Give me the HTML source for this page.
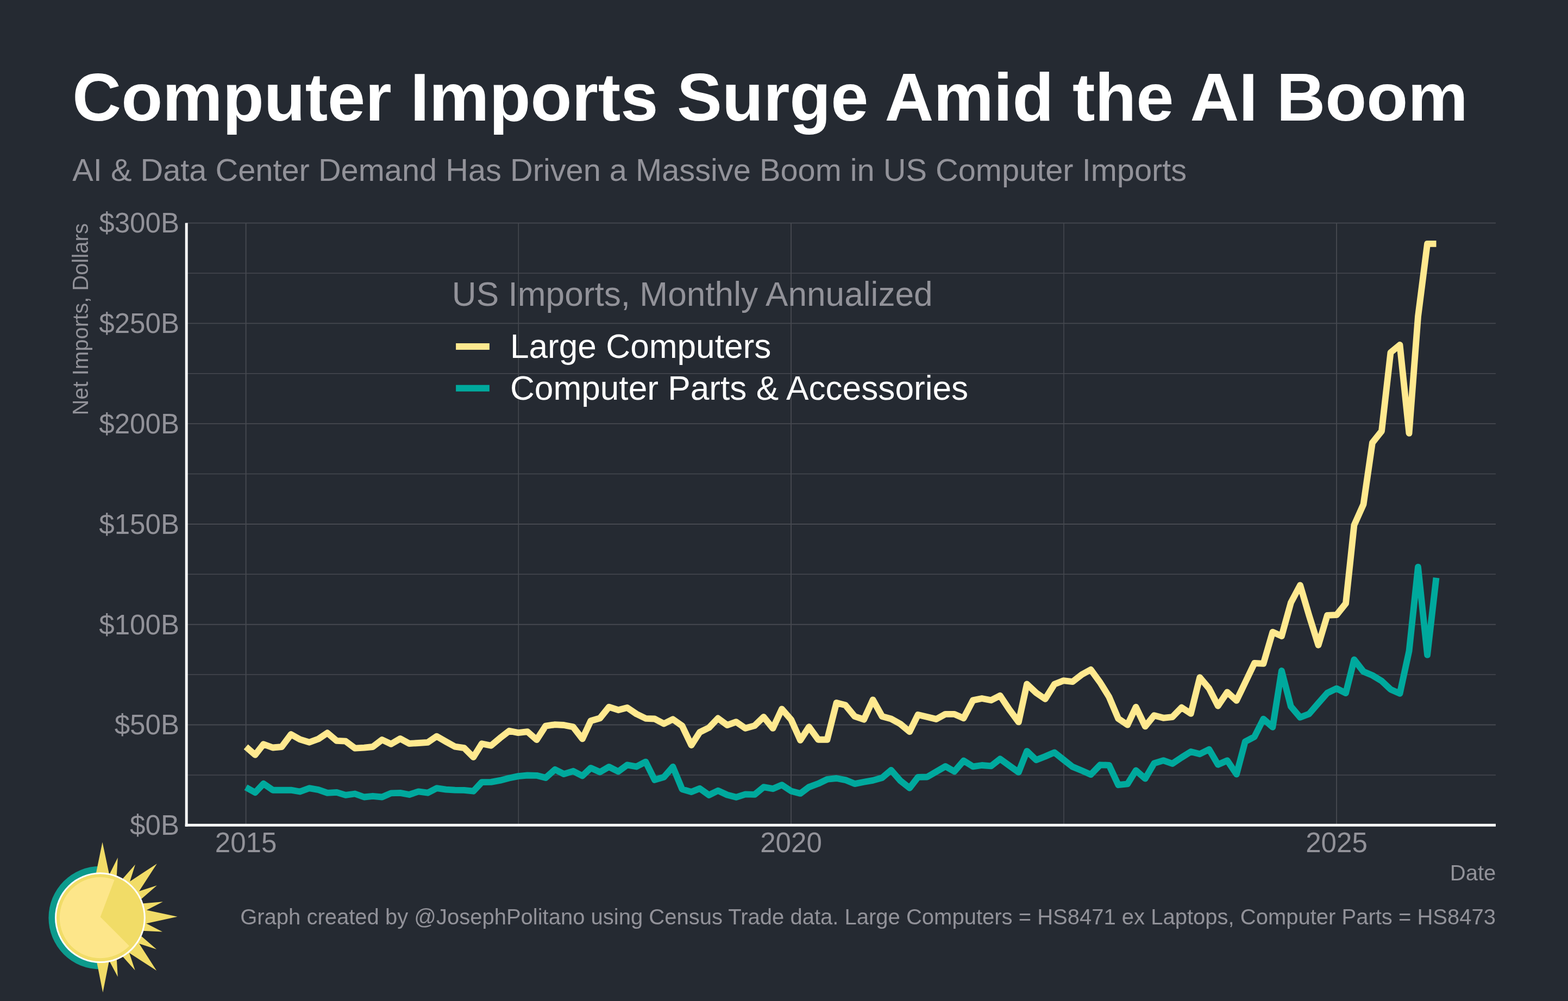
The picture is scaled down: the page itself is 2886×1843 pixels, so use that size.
<!DOCTYPE html>
<html lang="en">
<head>
<meta charset="utf-8">
<title>Computer Imports Surge Amid the AI Boom</title>
<style>
html,body{margin:0;padding:0;background:#252A32;}
body{width:2886px;height:1843px;overflow:hidden;}
svg{display:block;}
text{font-family:"Liberation Sans",sans-serif;}
.t{fill:#929299;}
.w{fill:#FFFFFF;}
</style>
</head>
<body>
<svg width="2886" height="1843" viewBox="0 0 2886 1843" role="img" aria-label="Computer Imports Surge Amid the AI Boom">
<rect id="background" x="0" y="0" width="2886" height="1843" fill="#252A32"/>
<g id="grid" stroke="#464950" fill="none">
<line x1="343.2" y1="1519.30" x2="2753.0" y2="1519.30" stroke-width="1.90"/>
<line x1="343.2" y1="1426.91" x2="2753.0" y2="1426.91" stroke-width="1.50"/>
<line x1="343.2" y1="1334.52" x2="2753.0" y2="1334.52" stroke-width="1.90"/>
<line x1="343.2" y1="1242.12" x2="2753.0" y2="1242.12" stroke-width="1.50"/>
<line x1="343.2" y1="1149.73" x2="2753.0" y2="1149.73" stroke-width="1.90"/>
<line x1="343.2" y1="1057.34" x2="2753.0" y2="1057.34" stroke-width="1.50"/>
<line x1="343.2" y1="964.95" x2="2753.0" y2="964.95" stroke-width="1.90"/>
<line x1="343.2" y1="872.56" x2="2753.0" y2="872.56" stroke-width="1.50"/>
<line x1="343.2" y1="780.17" x2="2753.0" y2="780.17" stroke-width="1.90"/>
<line x1="343.2" y1="687.78" x2="2753.0" y2="687.78" stroke-width="1.50"/>
<line x1="343.2" y1="595.38" x2="2753.0" y2="595.38" stroke-width="1.90"/>
<line x1="343.2" y1="502.99" x2="2753.0" y2="502.99" stroke-width="1.50"/>
<line x1="343.2" y1="410.60" x2="2753.0" y2="410.60" stroke-width="1.90"/>
<line x1="452.60" y1="410.6" x2="452.60" y2="1519.3" stroke-width="1.90"/>
<line x1="954.31" y1="410.6" x2="954.31" y2="1519.3" stroke-width="1.50"/>
<line x1="1456.03" y1="410.6" x2="1456.03" y2="1519.3" stroke-width="1.90"/>
<line x1="1958.01" y1="410.6" x2="1958.01" y2="1519.3" stroke-width="1.50"/>
<line x1="2460.00" y1="410.6" x2="2460.00" y2="1519.3" stroke-width="1.90"/>
</g>
<g id="series" fill="none" stroke-width="11.85" stroke-linejoin="round" stroke-linecap="butt">
<polyline id="series-parts" stroke="#00A99D" points="452.6,1449.7 469.6,1459.2 485.0,1442.9 502.1,1454.7 518.5,1454.7 535.6,1454.7 552.1,1457.5 569.1,1451.2 586.1,1454.1 602.6,1459.9 619.7,1458.9 636.1,1463.9 653.2,1461.5 670.2,1467.5 686.1,1465.8 703.2,1467.5 719.7,1460.4 736.7,1459.9 753.2,1463.0 770.2,1457.4 787.3,1459.7 803.7,1451.2 820.8,1453.6 837.3,1454.7 854.3,1454.9 871.3,1456.7 886.7,1440.1 903.8,1439.8 920.2,1436.9 937.3,1432.5 953.8,1429.1 970.8,1427.5 987.8,1427.8 1004.3,1432.1 1021.4,1416.8 1037.8,1425.1 1054.9,1419.8 1071.9,1428.5 1087.3,1413.9 1104.3,1421.5 1120.8,1411.9 1137.9,1420.5 1154.3,1408.4 1171.4,1411.5 1188.4,1402.6 1204.9,1435.9 1221.9,1430.8 1238.4,1411.8 1255.5,1453.1 1272.5,1458.0 1287.9,1451.7 1304.9,1463.9 1321.4,1455.7 1338.4,1463.5 1354.9,1467.8 1371.9,1462.4 1389.0,1462.9 1405.5,1449.2 1422.5,1452.2 1439.0,1445.1 1456.0,1456.4 1473.1,1460.9 1489.0,1449.1 1506.0,1442.8 1522.5,1434.8 1539.6,1433.0 1556.0,1436.1 1573.1,1443.1 1590.1,1439.8 1606.6,1436.9 1623.6,1432.0 1640.1,1417.9 1657.1,1437.3 1674.2,1450.9 1689.6,1430.8 1706.6,1430.5 1723.1,1420.8 1740.1,1411.0 1756.6,1420.3 1773.6,1400.6 1790.7,1411.3 1807.2,1409.0 1824.2,1410.3 1840.7,1397.3 1857.7,1409.6 1874.8,1421.9 1890.1,1382.9 1907.2,1399.2 1923.7,1392.7 1940.7,1385.4 1957.2,1398.5 1974.2,1411.8 1991.3,1418.9 2007.7,1426.1 2024.8,1408.3 2041.3,1408.8 2058.3,1445.2 2075.3,1443.4 2090.7,1418.5 2107.8,1433.5 2124.2,1405.4 2141.3,1400.1 2157.8,1406.0 2174.8,1394.6 2191.8,1384.0 2208.3,1388.3 2225.4,1379.8 2241.8,1407.7 2258.9,1400.2 2275.9,1425.5 2291.8,1365.5 2308.9,1356.4 2325.4,1323.7 2342.4,1338.8 2358.9,1235.0 2375.9,1300.7 2393.0,1320.8 2409.4,1314.5 2426.5,1294.7 2443.0,1275.9 2460.0,1267.6 2477.0,1276.1 2492.4,1214.5 2509.5,1236.5 2525.9,1243.4 2543.0,1253.8 2559.5,1269.3 2576.5,1276.9 2593.5,1198.8 2610.0,1043.9 2627.1,1205.8 2643.5,1063.8"/>
<polyline id="series-large" stroke="#FFE98F" points="452.6,1375.0 469.6,1389.9 485.0,1370.2 502.1,1376.5 518.5,1375.0 535.6,1352.1 552.1,1361.4 569.1,1366.7 586.1,1360.5 602.6,1349.4 619.7,1363.9 636.1,1364.7 653.2,1377.6 670.2,1376.6 686.1,1375.0 703.2,1362.0 719.7,1369.8 736.7,1360.0 753.2,1369.0 770.2,1368.0 787.3,1366.8 803.7,1355.7 820.8,1365.5 837.3,1374.7 854.3,1377.1 871.3,1394.1 886.7,1369.3 903.8,1372.8 920.2,1358.9 937.3,1345.7 953.8,1349.1 970.8,1347.1 987.8,1362.0 1004.3,1336.6 1021.4,1334.1 1037.8,1335.0 1054.9,1338.4 1071.9,1360.4 1087.3,1327.3 1104.3,1322.3 1120.8,1301.7 1137.9,1307.2 1154.3,1302.9 1171.4,1314.5 1188.4,1322.8 1204.9,1323.5 1221.9,1332.5 1238.4,1324.2 1255.5,1336.4 1272.5,1372.0 1287.9,1348.1 1304.9,1339.8 1321.4,1322.5 1338.4,1335.1 1354.9,1329.1 1371.9,1340.8 1389.0,1336.1 1405.5,1320.0 1422.5,1340.9 1439.0,1305.4 1456.0,1324.8 1473.1,1362.9 1489.0,1338.3 1506.0,1361.7 1522.5,1361.7 1539.6,1293.9 1556.0,1298.2 1573.1,1319.0 1590.1,1324.7 1606.6,1288.4 1623.6,1319.0 1640.1,1323.5 1657.1,1332.9 1674.2,1347.2 1689.6,1315.9 1706.6,1319.9 1723.1,1324.1 1740.1,1314.8 1756.6,1314.8 1773.6,1322.3 1790.7,1289.4 1807.2,1286.0 1824.2,1289.2 1840.7,1280.7 1857.7,1306.3 1874.8,1329.4 1890.1,1259.5 1907.2,1275.6 1923.7,1287.0 1940.7,1259.8 1957.2,1253.2 1974.2,1255.1 1991.3,1241.9 2007.7,1232.9 2024.8,1256.5 2041.3,1283.1 2058.3,1323.2 2075.3,1334.6 2090.7,1301.7 2107.8,1337.4 2124.2,1317.2 2141.3,1321.8 2157.8,1320.2 2174.8,1302.6 2191.8,1313.9 2208.3,1247.3 2225.4,1267.6 2241.8,1299.7 2258.9,1274.4 2275.9,1289.8 2291.8,1256.8 2308.9,1221.0 2325.4,1221.9 2342.4,1163.7 2358.9,1171.2 2375.9,1109.8 2393.0,1077.5 2409.4,1133.0 2426.5,1187.7 2443.0,1132.9 2460.0,1132.2 2477.0,1111.0 2492.4,966.8 2509.5,928.6 2525.9,815.3 2543.0,793.7 2559.5,649.0 2576.5,635.0 2593.5,797.7 2610.0,582.7 2627.1,448.8 2643.5,448.8"/>
</g>
<g id="axis-lines" stroke="#FFFFFF" stroke-width="4.90" fill="none">
<line x1="343.20" y1="410.60" x2="343.20" y2="1521.75" stroke-linecap="butt"/>
<line x1="340.75" y1="1519.30" x2="2753.00" y2="1519.30" stroke-linecap="butt"/>
</g>
<g id="y-axis-labels" class="t" font-size="51.10" text-anchor="end">
<text x="330.0" y="1537.0">$0B</text>
<text x="330.0" y="1352.3">$50B</text>
<text x="330.0" y="1167.5">$100B</text>
<text x="330.0" y="982.7">$150B</text>
<text x="330.0" y="797.9">$200B</text>
<text x="330.0" y="613.1">$250B</text>
<text x="330.0" y="428.4">$300B</text>
</g>
<g id="x-axis-labels" class="t" font-size="51.10" text-anchor="middle">
<text x="452.6" y="1569.0">2015</text>
<text x="1456.0" y="1569.0">2020</text>
<text x="2460.0" y="1569.0">2025</text>
</g>
<text id="x-axis-title" class="t" font-size="40.00" text-anchor="end" x="2753.3" y="1621.0">Date</text>
<text id="y-axis-title" class="t" font-size="40.00" text-anchor="end" transform="translate(162.4,411.1) rotate(-90)">Net Imports, Dollars</text>
<g id="legend">
<text class="t" font-size="62.20" x="831.8" y="563.0">US Imports, Monthly Annualized</text>
<line x1="839.1" y1="638.0" x2="900.9" y2="638.0" stroke="#FFE98F" stroke-width="11.85"/>
<line x1="839.1" y1="714.7" x2="900.9" y2="714.7" stroke="#00A99D" stroke-width="11.85"/>
<text class="w" font-size="62.20" x="938.9" y="658.8">Large Computers</text>
<text class="w" font-size="62.20" x="938.9" y="735.5">Computer Parts &amp; Accessories</text>
</g>
<text id="title" class="w" font-weight="bold" font-size="124.40" x="133.3" y="221.9">Computer Imports Surge Amid the AI Boom</text>
<text id="subtitle" class="t" font-size="57.76" x="133.3" y="333.0">AI &amp; Data Center Demand Has Driven a Massive Boom in US Computer Imports</text>
<text id="caption" class="t" font-size="40.00" text-anchor="end" x="2753.0" y="1702.0">Graph created by @JosephPolitano using Census Trade data. Large Computers = HS8471 ex Laptops, Computer Parts = HS8473</text>
<g id="logo">
<path d="M184.4 1594.7A95.0 95.0 0 0 0 184.4 1784.7Z" fill="#0D9B8D"/>
<path d="M174.8 1617.6L188.5 1550.5L203.0 1618.9ZM199.7 1613.3L216.8 1579.0L214.5 1617.1ZM221.8 1622.5L248.9 1591.8L237.1 1629.5ZM228.3 1629.9L288.8 1590.2L248.9 1651.8ZM248.9 1643.0L288.8 1630.3L255.2 1659.5ZM256.4 1664.0L299.8 1660.2L263.3 1679.0ZM257.4 1672.9L326.6 1687.8L256.8 1703.0ZM262.9 1696.9L299.0 1715.6L256.5 1713.4ZM255.4 1719.6L288.1 1747.8L249.1 1735.1ZM249.1 1726.5L288.1 1787.0L227.1 1747.6ZM235.8 1747.7L248.6 1786.6L221.9 1756.8ZM214.5 1761.1L216.8 1798.6L199.1 1765.3ZM202.8 1759.4L189.3 1827.2L175.9 1760.0Z" fill="#F1DC67"/>
<circle cx="184.4" cy="1689.7" r="83.4" fill="#FFFFFF"/>
<circle cx="184.4" cy="1689.7" r="80.4" fill="#F1DC67"/>
<circle cx="184.4" cy="1689.7" r="74.6" fill="#FDE68A"/>
<path d="M184.7 1688.2L210.9 1619.3A75.2 75.2 0 0 1 238.3 1742.1Z" fill="#F1DC67"/>
</g>
</svg>
</body>
</html>
